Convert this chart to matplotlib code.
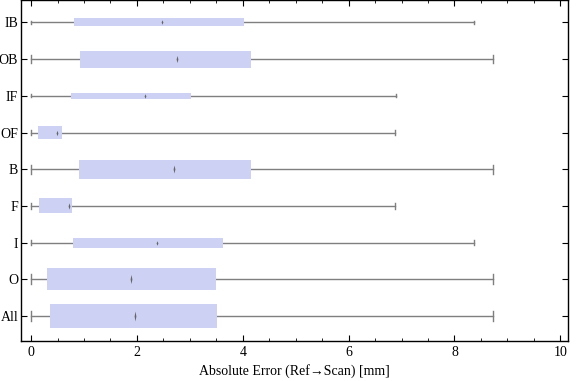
import matplotlib
matplotlib.use("Agg")
import matplotlib.pyplot as plt
from matplotlib.patches import Rectangle

# Data (bottom to top)
categories = ["All", "O", "I", "F", "B", "OF", "IF", "OB", "IB"]
whisker_min = [0.0, 0.0, 0.0, 0.0, 0.0, 0.0, 0.0, 0.0, 0.0]
q1 = [0.36, 0.30, 0.79, 0.15, 0.91, 0.13, 0.76, 0.93, 0.81]
median = [1.96, 1.89, 2.38, 0.72, 2.71, 0.49, 2.15, 2.76, 2.48]
q3 = [3.52, 3.50, 3.63, 0.78, 4.16, 0.59, 3.03, 4.16, 4.02]
whisker_max = [8.73, 8.73, 8.37, 6.88, 8.72, 6.87, 6.89, 8.73, 8.37]
# relative box thickness (sample weight)
weight = [0.65, 0.60, 0.27, 0.41, 0.52, 0.35, 0.16, 0.46, 0.22]

plt.rcParams['font.family'] = ['Liberation Serif', 'DejaVu Serif']

fig = plt.figure(figsize=(5.76, 3.81), dpi=100)
ax = fig.add_axes([0.0365, 0.105, 0.950, 0.894])

box_color = "#cdd2f4"
wcol = "#7f7f7f"
px_per_unit = 36.8
for i, cat in enumerate(categories):
    y = i + 1
    h = weight[i]
    ax.plot([whisker_min[i], whisker_max[i]], [y, y], color=wcol, lw=1.0, zorder=1)
    cap = h * 0.45
    for xv in (whisker_min[i], whisker_max[i]):
        ax.plot([xv, xv], [y - cap / 2, y + cap / 2], color=wcol, lw=1.0, zorder=1)
    ax.add_patch(Rectangle((q1[i], y - h / 2), q3[i] - q1[i], h,
                           facecolor=box_color, edgecolor="none", zorder=2))
    hpx = max(4.5, h * px_per_unit * 0.42)
    wpx = 3.6
    r = (wpx / hpx) * 0.5
    verts = [(-r, 0), (0, 1), (r, 0), (0, -1), (-r, 0)]
    ax.plot([median[i]], [y], marker=verts, color="#666666",
            markersize=hpx * 72 / 100, markeredgewidth=0, zorder=3)

ax.set_xlim(-0.19, 10.15)
ax.set_ylim(0.32, 9.6)
ax.set_yticks(range(1, len(categories) + 1))
ax.set_yticklabels(categories)
ax.set_xticks([0, 2, 4, 6, 8, 10])
ax.set_xticks([v * 0.5 for v in range(0, 21)], minor=True)
ax.tick_params(axis="both", which="both", direction="in", top=True, right=True,
               labelsize=10, color="black")
ax.tick_params(axis="x", which="major", length=4, width=0.8)
ax.tick_params(axis="x", which="minor", length=2, width=0.6)
ax.tick_params(axis="y", which="major", length=4, width=0.8, pad=2)
for s in ax.spines.values():
    s.set_linewidth(1.0)
ax.set_xlabel("Absolute Error (Ref\u2192Scan) [mm]", fontsize=10, labelpad=4)

fig.savefig("out.png", dpi=100)
